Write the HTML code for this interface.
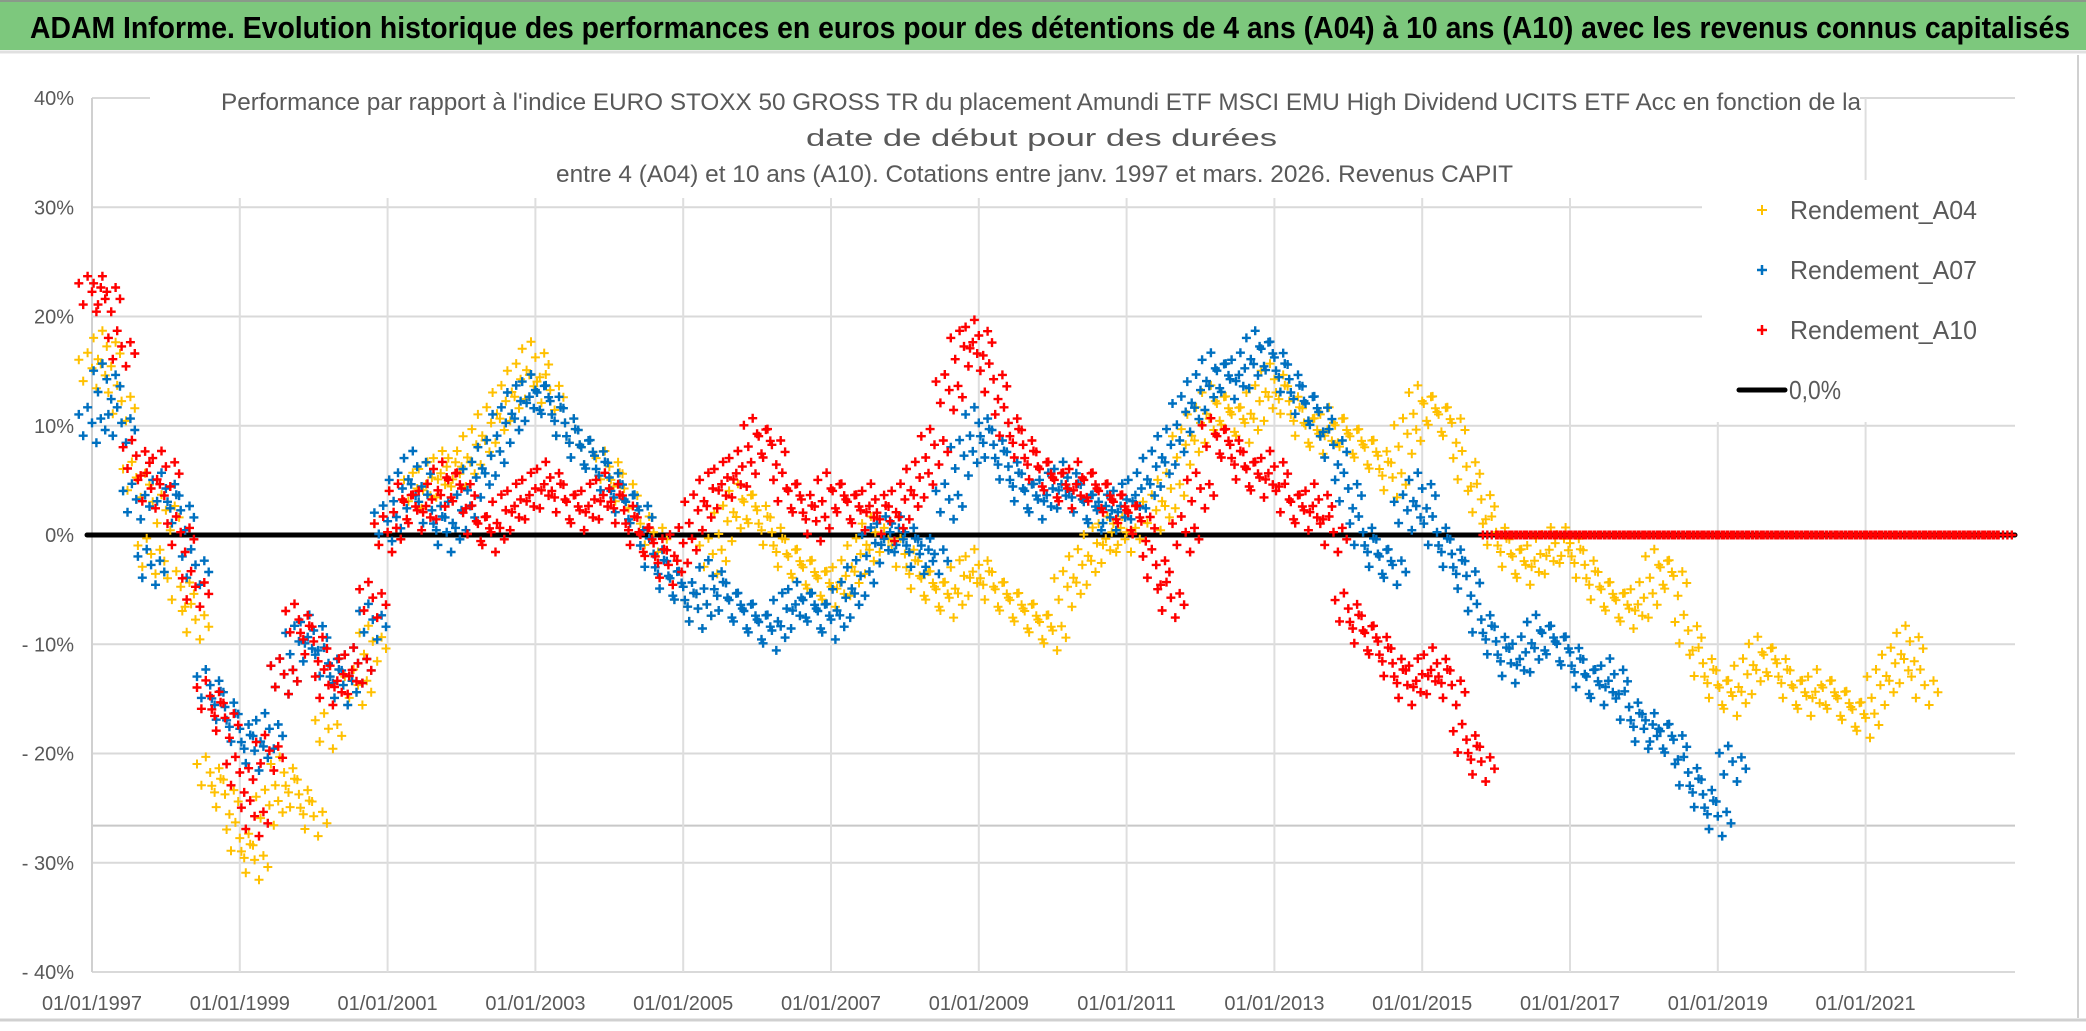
<!DOCTYPE html>
<html><head><meta charset="utf-8"><style>
html,body{margin:0;padding:0;background:#fff;}
svg{display:block;font-family:"Liberation Sans",sans-serif;}
</style></head><body>
<svg id="chart" width="2086" height="1031" viewBox="0 0 2086 1031" xmlns="http://www.w3.org/2000/svg">
<rect x="0" y="0" width="2086" height="1031" fill="#fff"/>
<rect x="0" y="0" width="2086" height="50" fill="#7dc87d"/>
<line x1="0" y1="1" x2="2086" y2="1" stroke="#8a9a8a" stroke-width="2"/>
<line x1="0" y1="52" x2="2086" y2="52" stroke="#e0e0e0" stroke-width="3"/>
<text x="30" y="38" font-size="31" font-weight="bold" fill="#000" textLength="2040" lengthAdjust="spacingAndGlyphs">ADAM Informe. Evolution historique des performances en euros pour des détentions de 4 ans (A04) à 10 ans (A10) avec les revenus connus capitalisés</text>
<line x1="2078" y1="55" x2="2078" y2="1018" stroke="#d0d0d0" stroke-width="2"/>
<line x1="0" y1="1020" x2="2086" y2="1020" stroke="#d0d0d0" stroke-width="3"/>
<g id="grid"></g>
<rect x="150" y="70" width="1710" height="128" fill="#fff"/>
<rect x="1702" y="180" width="315" height="242" fill="#fff"/>
<g id="marks"></g>
<g id="axes"></g>
<g fill="#595959" font-size="24">
<text x="221" y="110" textLength="1640" lengthAdjust="spacingAndGlyphs">Performance par rapport à l'indice EURO STOXX 50 GROSS TR  du placement Amundi ETF MSCI EMU High Dividend UCITS ETF Acc en fonction de la</text>
<text x="806" y="146" textLength="471" lengthAdjust="spacingAndGlyphs">date de début pour des durées</text>
<text x="556" y="182" textLength="957" lengthAdjust="spacingAndGlyphs">entre 4 (A04) et 10 ans (A10). Cotations entre janv. 1997 et mars. 2026. Revenus CAPIT</text>
</g>
<g font-size="26" fill="#595959">
<g><path d="M1757 210h10M1762 205v10" stroke="#ffc000" stroke-width="2"/><text x="1790" y="219" textLength="187" lengthAdjust="spacingAndGlyphs">Rendement_A04</text></g>
<g><path d="M1757 270h10M1762 265v10" stroke="#0070c0" stroke-width="2.5"/><text x="1790" y="279" textLength="187" lengthAdjust="spacingAndGlyphs">Rendement_A07</text></g>
<g><path d="M1757 330h10M1762 325v10" stroke="#ff0000" stroke-width="2.5"/><text x="1790" y="339" textLength="187" lengthAdjust="spacingAndGlyphs">Rendement_A10</text></g>
<g><line x1="1739" y1="390" x2="1785" y2="390" stroke="#000" stroke-width="5" stroke-linecap="round"/><text x="1789" y="399" textLength="52" lengthAdjust="spacingAndGlyphs">0,0%</text></g>
</g>
</svg>
<script>
const yTicks = [40,30,20,10,0,-10,-20,-30,-40];
const yTickLabels = ["40%","30%","20%","10%","0%","- 10%","- 20%","- 30%","- 40%"];
const xTickYears = [1997,1999,2001,2003,2005,2007,2009,2011,2013,2015,2017,2019,2021];
const xTickLabels = ["01/01/1997","01/01/1999","01/01/2001","01/01/2003","01/01/2005","01/01/2007","01/01/2009","01/01/2011","01/01/2013","01/01/2015","01/01/2017","01/01/2019","01/01/2021"];
const seriesStart = 1997;
const seriesStep = 0.2;
const a04 = [15,17,12,5,-2, 2,-5,-8,-22,-24, -28,-30,-25,-22,-24, -26,-18,-14,-14,-10,
 0,3,4,5,6, 6,8,10,12,14, 16,13,10,8,7, 6,4,2,0,-3, -5,-7,-2,1,3, 2,0,-2,-3,-4,
 -5,-4,-2,0,1, -2,-4,-5,-6,-4, -3,-5,-6,-7,-8, -9,-5,-3,-1,0, 0,1,2,4,8, 10,12,11,10,12,
 14,12,10,9,10, 9,8,7,5,9, 12,11,10,6,3, 0,-2,-3,-2,-1, -1,-3,-5,-6,-7, -6,-3,-4,-9,-12,
 -14,-15,-13,-11,-12, -14,-15,-14,-15,-16, -17,-14,-12,-10,-14];
const a07 = [10,14,10,3,-3, 4,2,-3,-14,-16, -18,-20,-18,-13,-10, -9,-12,-14,-12,-8,
 1,4,6,2,0, 2,5,7,10,12, 13,12,10,8,7, 5,3,2,-2,-4, -5,-7,-4,-6,-7, -8,-9,-7,-6,-7,
 -8,-6,-4,-1,0, 0,-2,-2,3,7, 10,8,6,4,3, 4,5,3,2,2, 3,4,6,8,11, 13,15,14,15,17,
 16,14,12,11,8, 4,0,-2,-3,2, 4,0,-2,-4,-8, -10,-12,-11,-9,-10, -11,-13,-14,-13,-16, -18,-18,-19,-22,-24,
 -26,-21];
const a10 = [22,22,17,7,4, 6,0,-5,-15,-17, -22,-26,-20,-13,-8, -10,-14,-13,-12,-6,
 0,3,2,3,5, 4,1,0,2,3, 4,5,3,2,3, 4,2,0,-1,-3, -1,2,4,5,6, 9,8,4,3,1,
 4,3,2,3,1, 3,5,8,13,17, 18,14,10,8,6, 5,4,5,4,3, 2,1,-3,-6,0, 4,9,8,6,5,
 6,3,2,3,0, -7,-9,-10,-12,-14, -13,-12,-14,-19,-21,
 0,0,0,0,0, 0,0,0,0,0, 0,0,0,0,0, 0,0,0,0,0, 0,0,0,0,0, 0,0,0,0,0, 0,0,0,0,0];
const seriesColors = {a04:"#ffc000", a07:"#0070c0", a10:"#ff0000"};

const NS="http://www.w3.org/2000/svg";
const X0=92, PXY=73.9, Y0=535, PXV=10.925, XR=2015;
function xScale(year){return X0+(year-1997)*PXY;}
function yScale(v){return Y0-v*PXV;}
function mk(tag,attrs,parent){const e=document.createElementNS(NS,tag);for(const k in attrs)e.setAttribute(k,attrs[k]);parent.appendChild(e);return e;}

const grid=document.getElementById('grid');
const axes=document.getElementById('axes');
yTicks.forEach((t,i)=>{
  const y=yScale(t);
  if(t!==0){
    const l=mk('line',{x1:X0,y1:y,x2:XR,y2:y,stroke:'#d9d9d9','stroke-width':2},grid);
    
    
  }
  const tx=mk('text',{x:74,y:y+7,'text-anchor':'end','font-size':20,fill:'#595959'},axes);
  tx.textContent=yTickLabels[i];
  
  
});
const extra=mk('line',{x1:X0,y1:yScale(-26.6),x2:XR,y2:yScale(-26.6),stroke:'#c8c8c8','stroke-width':2},grid);


xTickYears.forEach((yr,i)=>{
  const x=xScale(yr);
  const l=mk('line',{x1:x,y1:yScale(40),x2:x,y2:yScale(-40),stroke:i===0?'#d0d0d0':'#dedede','stroke-width':2},grid);
  
  
  const tx=mk('text',{x:x,y:1010,'text-anchor':'middle','font-size':20,fill:'#595959'},axes);
  tx.textContent=xTickLabels[i];
  
  
});

const marks=document.getElementById('marks');
const zl=mk('line',{x1:X0-5,y1:yScale(0),x2:XR,y2:yScale(0),stroke:'#000','stroke-width':5,'stroke-linecap':'round'},marks);



const clusterDx=[-6,-4,-2,0,2,4,6];
const clusterDv=[0.8,-0.7,1.3,0.2,-1.2,0.5,-0.3];
function drawSeries(vals,color,name,sw){
  const g=mk('g',{stroke:color,'stroke-width':sw,fill:'none'},marks);
  
  
  let d='';
  vals.forEach((v,i)=>{
    const yr=seriesStart+i*seriesStep;
    const cx=xScale(yr), flat=(v===0 && name==='series-a10' && yr>2015.9);
    for(let k=0;k<clusterDx.length;k++){
      const x=cx+clusterDx[k]*2.2;
      const y=flat? yScale(v) : yScale(v+clusterDv[k]*1.3);
      d+='M'+(x-4.5).toFixed(1)+' '+y.toFixed(1)+'h9M'+x.toFixed(1)+' '+(y-4.5).toFixed(1)+'v9';
    }
  });
  const p=mk('path',{d:d},g);
  
  
}
drawSeries(a04,seriesColors.a04,'series-a04',2);
drawSeries(a07,seriesColors.a07,'series-a07',2.4);
drawSeries(a10,seriesColors.a10,'series-a10',2.4);
</script>
</body></html>
